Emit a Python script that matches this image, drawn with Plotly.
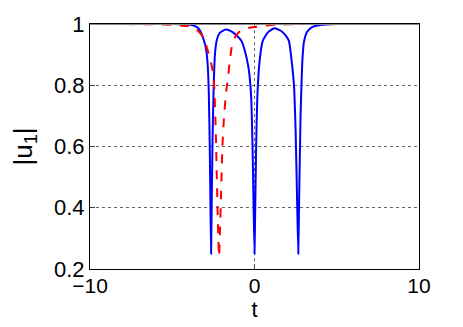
import plotly.graph_objects as go

# blue solid curve (three dips)
t_blue = [-10, -5, -4, -3.5, -3.3, -3.1, -2.95, -2.85, -2.78, -2.72, -2.68, -2.64,
          -2.6, -2.55, -2.48, -2.4, -2.28, -2.1, -1.75, -1.4, -1.1, -0.8, -0.6, -0.4,
          -0.3, -0.2, -0.12, -0.06, 0, 0.05, 0.1, 0.17, 0.3, 0.5, 0.8, 1.2, 1.6, 1.9,
          2.09, 2.27, 2.4, 2.5, 2.58, 2.66, 2.72, 2.8, 2.9, 3.0, 3.2, 3.5, 4, 5, 10]
u_blue = [1.0, 1.0, 0.998, 0.99, 0.978, 0.95, 0.92, 0.87, 0.78, 0.6, 0.42, 0.25,
          0.42, 0.62, 0.8, 0.905, 0.95, 0.972, 0.982, 0.976, 0.963, 0.945, 0.915, 0.868,
          0.83, 0.76, 0.6, 0.42, 0.25, 0.42, 0.6, 0.76, 0.874, 0.945, 0.972, 0.986, 0.978, 0.962,
          0.945, 0.874, 0.8, 0.65, 0.45, 0.25, 0.45, 0.7, 0.87, 0.94, 0.975, 0.99, 0.997, 1.0, 1.0]

# red dashed curve (single dip)
t_red = [-10, -6, -5, -4.5, -4, -3.6, -3.3, -3.05, -2.8, -2.65, -2.55, -2.45, -2.35, -2.27,
         -2.2, -2.15, -2.1, -2.03, -1.95, -1.85, -1.72, -1.6, -1.52, -1.4, -1.32, -1.15,
         -1.0, -0.8, -0.3, 0, 0.5, 1, 2, 4, 10]
u_red = [1.0, 0.999, 0.997, 0.995, 0.993, 0.985, 0.97, 0.95, 0.905, 0.875, 0.85, 0.8, 0.64, 0.45,
         0.3, 0.24, 0.32, 0.45, 0.6, 0.7, 0.78, 0.83, 0.87, 0.92, 0.94, 0.96,
         0.97, 0.98, 0.988, 0.99, 0.994, 0.997, 0.999, 1.0, 1.0]

x_ticks = [-10, 0, 10]
y_ticks = [0.2, 0.4, 0.6, 0.8, 1]
y_labels = ["0.2", "0.4", "0.6", "0.8", "1"]

fig = go.Figure()
fig.add_trace(go.Scatter(x=t_blue, y=u_blue, mode="lines",
                         line=dict(color="#0000ff", width=2, shape="spline", smoothing=0.5)))
fig.add_trace(go.Scatter(x=t_red, y=u_red, mode="lines",
                         line=dict(color="#ff0000", width=2, dash="dash", shape="spline", smoothing=0.5)))

# grey line along the top edge
fig.add_shape(type="line", xref="x", yref="y", x0=-10, x1=10, y0=1, y1=1,
              line=dict(color="#8a8a8a", width=2))

font = dict(family="Liberation Sans, Arial, sans-serif", size=22, color="black")
xfont = dict(family="Liberation Sans, Arial, sans-serif", size=21, color="black")

fig.update_layout(
    width=455, height=319,
    margin=dict(l=82, r=44, t=16, b=58),
    paper_bgcolor="white", plot_bgcolor="white",
    showlegend=False,
    font=font,
    xaxis=dict(range=[-10, 10], tickvals=x_ticks, ticks="inside", ticklen=5,
               showline=True, linecolor="black", linewidth=1, mirror=True,
               showgrid=True, gridcolor="#666666", griddash="dot", gridwidth=1,
               zeroline=False, automargin=False, ticklabelstandoff=-2,
               title=dict(text="t", standoff=4, font=font), tickfont=xfont),
    yaxis=dict(range=[0.2, 1], tickvals=y_ticks, ticktext=y_labels, ticks="inside", ticklen=5,
               showline=True, linecolor="black", linewidth=1, mirror=True,
               showgrid=True, gridcolor="#666666", griddash="dot", gridwidth=1,
               zeroline=False, automargin=False,
               title=dict(text="|u<sub>1</sub>|", standoff=14), tickfont=font),
)

fig.write_html("out.html")
